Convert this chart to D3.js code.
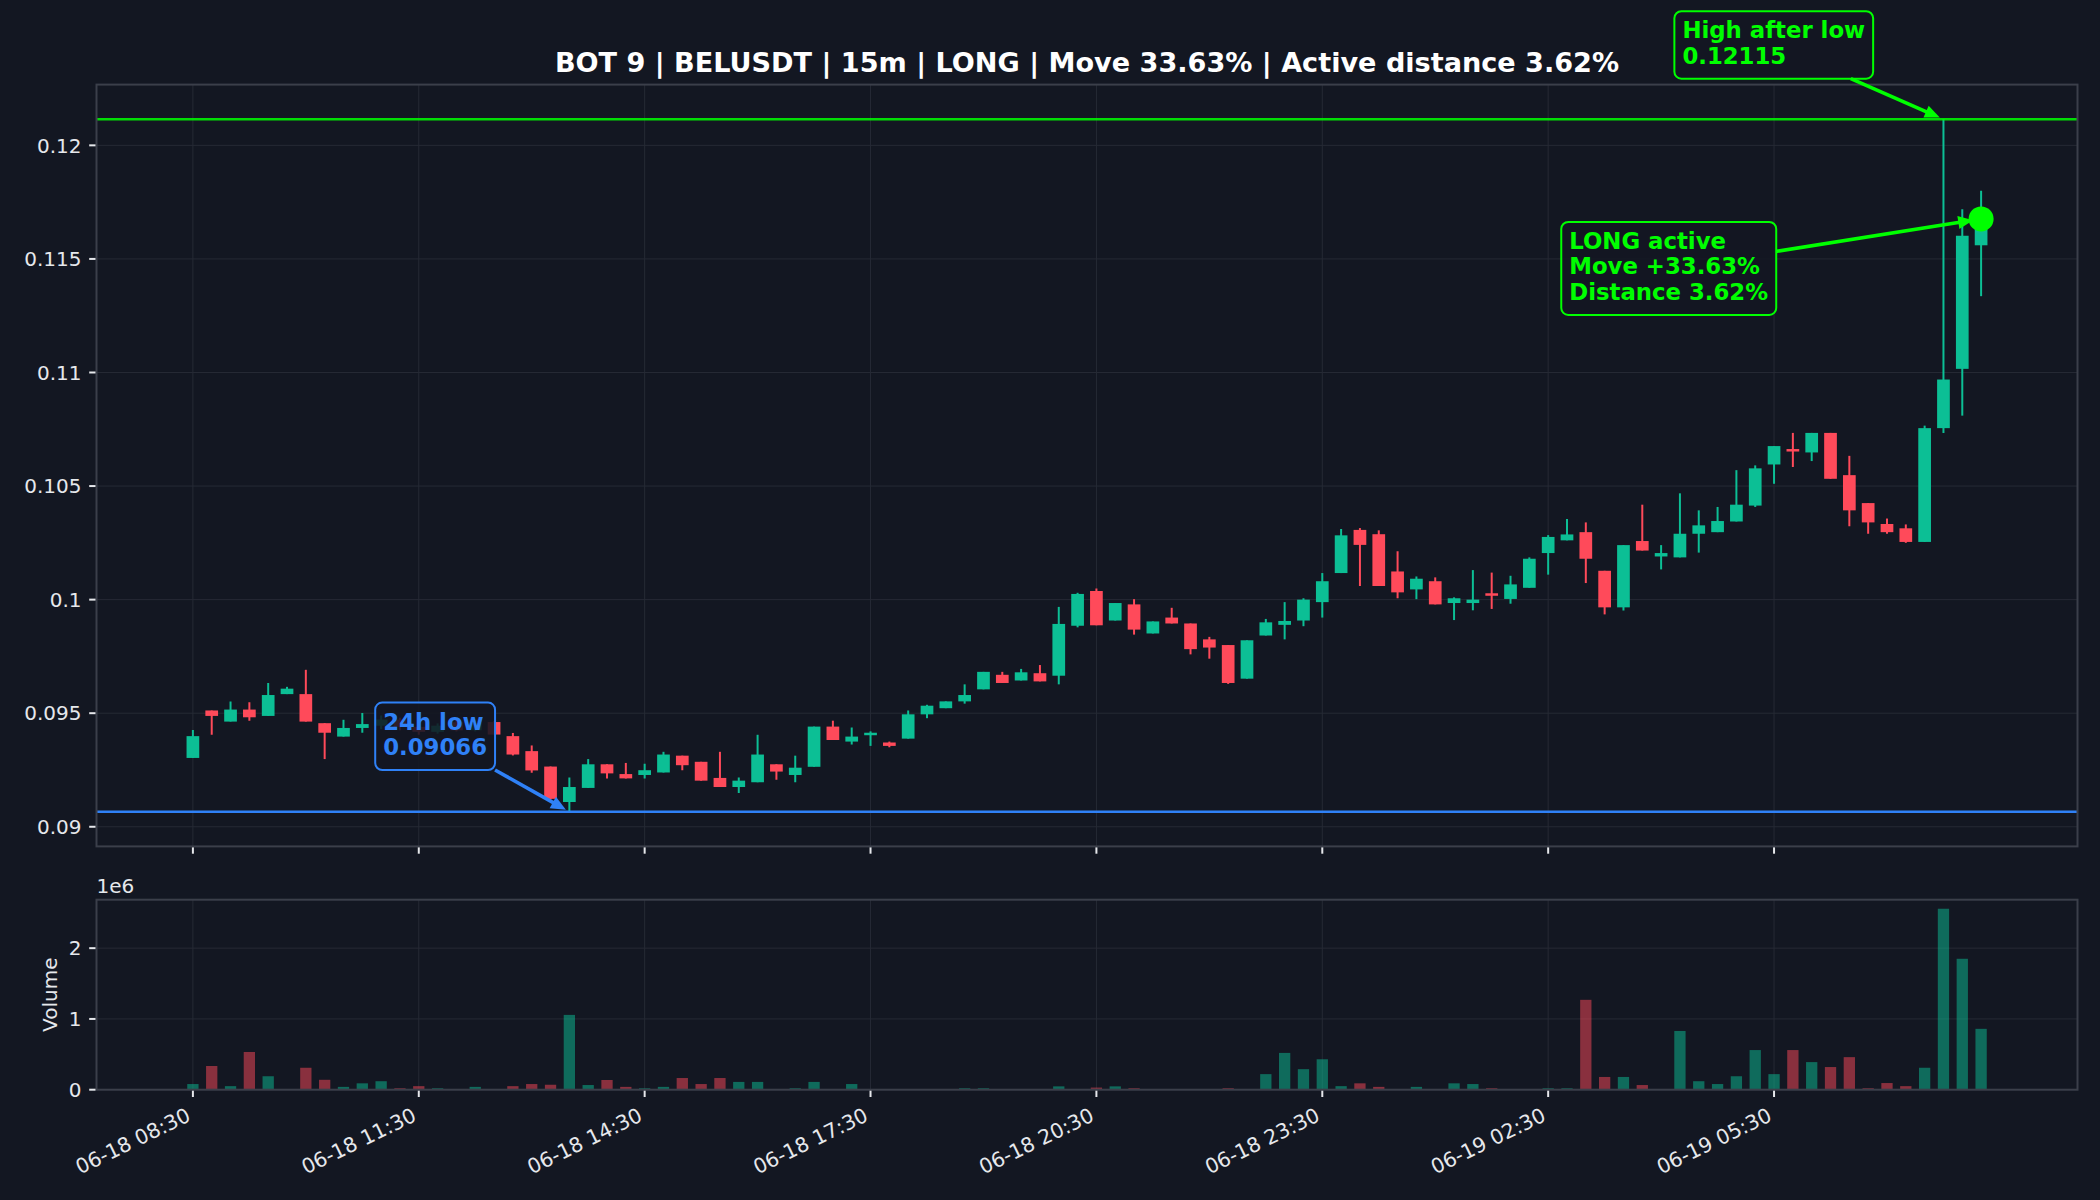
<!DOCTYPE html>
<html>
<head>
<meta charset="utf-8">
<script src="https://cdn.jsdelivr.net/npm/d3@7/dist/d3.min.js"></script>
<style>
  body { margin: 0; background: #131722; }
  svg { display: block; font-family: "DejaVu Sans", sans-serif; }
</style>
</head>
<body>
<svg id="chart" width="2100" height="1200"></svg>
<script>
//////// Data (15m candles, 06-18 08:30 -> 06-19 08:15)
var openP = [0.09303,0.09512,0.09463,0.09516,0.09488,0.09584,0.09584,0.09456,0.09397,0.09435,
  0.09445,0.09472,0.09440,0.09418,0.09460,0.09425,0.09461,0.09399,0.09333,0.09265,
  0.09109,0.09171,0.09275,0.09232,0.09228,0.09239,0.09313,0.09286,0.09215,0.09175,
  0.09196,0.09275,0.09228,0.09264,0.09441,0.09375,0.09403,0.09371,0.09388,0.09495,
  0.09522,0.09552,0.09605,0.09669,0.09644,0.09676,0.09665,0.09885,0.10038,0.09908,
  0.09979,0.09851,0.09921,0.09895,0.09825,0.09800,0.09652,0.09842,0.09889,0.09908,
  0.09989,0.10117,0.10307,0.10288,0.10124,0.10045,0.10081,0.09985,0.09985,0.10028,
  0.10003,0.10052,0.10205,0.10261,0.10297,0.10127,0.09966,0.10258,0.10190,0.10186,
  0.10290,0.10297,0.10344,0.10414,0.10595,0.10663,0.10648,0.10734,0.10548,0.10425,
  0.10333,0.10314,0.10254,0.10755,0.11016,0.11560]
var highP = [0.09426,0.09512,0.09552,0.09548,0.09633,0.09616,0.09691,0.09456,0.09471,0.09501,
  0.09490,0.09480,0.09450,0.09455,0.09470,0.09470,0.09465,0.09413,0.09358,0.09265,
  0.09217,0.09298,0.09275,0.09281,0.09277,0.09330,0.09313,0.09286,0.09330,0.09217,
  0.09405,0.09275,0.09313,0.09441,0.09467,0.09437,0.09420,0.09375,0.09512,0.09537,
  0.09552,0.09627,0.09682,0.09682,0.09695,0.09712,0.09968,0.10030,0.10049,0.09985,
  0.10002,0.09904,0.09964,0.09895,0.09836,0.09800,0.09821,0.09915,0.09989,0.10006,
  0.10117,0.10311,0.10315,0.10305,0.10213,0.10102,0.10098,0.10010,0.10130,0.10119,
  0.10105,0.10186,0.10284,0.10355,0.10340,0.10127,0.10240,0.10418,0.10240,0.10468,
  0.10393,0.10408,0.10570,0.10591,0.10676,0.10734,0.10734,0.10734,0.10633,0.10425,
  0.10357,0.10331,0.10766,0.12115,0.11719,0.11800]
var lowP = [0.09303,0.09405,0.09463,0.09467,0.09488,0.09584,0.09463,0.09298,0.09397,0.09414,
  0.09430,0.09425,0.09405,0.09410,0.09420,0.09420,0.09406,0.09314,0.09238,0.09120,
  0.09066,0.09171,0.09213,0.09213,0.09213,0.09239,0.09249,0.09203,0.09175,0.09149,
  0.09196,0.09207,0.09196,0.09264,0.09382,0.09362,0.09356,0.09350,0.09388,0.09478,
  0.09522,0.09542,0.09605,0.09633,0.09644,0.09640,0.09627,0.09878,0.09887,0.09908,
  0.09846,0.09851,0.09895,0.09759,0.09740,0.09629,0.09652,0.09842,0.09825,0.09883,
  0.09921,0.10117,0.10060,0.10060,0.10006,0.10002,0.09979,0.09910,0.09953,0.09959,
  0.09982,0.10052,0.10110,0.10261,0.10073,0.09935,0.09952,0.10216,0.10133,0.10186,
  0.10207,0.10297,0.10344,0.10408,0.10510,0.10584,0.10610,0.10532,0.10323,0.10290,
  0.10290,0.10250,0.10254,0.10734,0.10810,0.11336]
var closeP = [0.09399,0.09488,0.09516,0.09482,0.09580,0.09608,0.09463,0.09414,0.09435,0.09452,
  0.09472,0.09440,0.09418,0.09445,0.09425,0.09455,0.09406,0.09318,0.09248,0.09123,
  0.09175,0.09275,0.09235,0.09213,0.09249,0.09318,0.09271,0.09203,0.09175,0.09203,
  0.09318,0.09243,0.09260,0.09441,0.09382,0.09397,0.09414,0.09356,0.09495,0.09533,
  0.09552,0.09580,0.09682,0.09633,0.09680,0.09640,0.09893,0.10025,0.09887,0.09985,
  0.09868,0.09904,0.09895,0.09782,0.09789,0.09633,0.09821,0.09900,0.09906,0.10000,
  0.10081,0.10283,0.10241,0.10060,0.10032,0.10092,0.09979,0.10006,0.10000,0.10017,
  0.10067,0.10180,0.10276,0.10287,0.10180,0.09966,0.10240,0.10216,0.10205,0.10290,
  0.10327,0.10346,0.10418,0.10578,0.10676,0.10652,0.10734,0.10532,0.10393,0.10340,
  0.10297,0.10254,0.10755,0.10969,0.11602,0.11676]
var volume = [80000,335000,50000,533000,190000,5000,310000,140000,40000,90000,
  120000,20000,50000,20000,5000,40000,5000,50000,80000,70000,
  1057000,66000,137000,40000,20000,40000,165000,80000,165000,110000,
  110000,5000,20000,110000,5000,80000,3000,3000,3000,3000,
  3000,20000,20000,3000,3000,3000,47000,3000,30000,47000,
  20000,3000,3000,3000,3000,20000,3000,220000,520000,290000,
  430000,50000,90000,40000,3000,40000,3000,90000,80000,20000,
  3000,3000,20000,20000,1270000,180000,180000,66000,3000,830000,
  120000,80000,190000,560000,220000,560000,390000,320000,460000,20000,
  94000,50000,310000,2557000,1850000,860000]

var tickIdx = [0, 12, 24, 36, 48, 60, 72, 84]
var tickLabels = ["06-18 08:30", "06-18 11:30", "06-18 14:30", "06-18 17:30",
  "06-18 20:30", "06-18 23:30", "06-19 02:30", "06-19 05:30"]
var priceTicks = [0.09, 0.095, 0.1, 0.105, 0.11, 0.115, 0.12]
var volTicks = [0, 1e6, 2e6]

var lowIdx = 20, lowValue = 0.09066
var highIdx = 93, highValue = 0.12115
var lastIdx = 95, lastClose = 0.11676
var movePct = 33.63, distPct = 3.62

//////// Styles
var bg = "#131722", upC = "#0cbf95", downC = "#ff4a5a"
var gridC = "#262a35", spineC = "#3b3f4a", textC = "#e6e8ec"
var lime = "#00ff00", blue = "#2f81f7"
var bodyW = 0.675, volW = 0.6

var svg = d3.select("#chart")
svg.append("rect").attr("width", 2100).attr("height", 1200).attr("fill", bg)

var idx = d3.range(closeP.length)
var left = 96.5, right = 2077.5
var x0 = -bodyW / 2, x1 = idx.length - 1 + bodyW / 2
var x = d3.scaleLinear().domain([x0 - (x1 - x0) * 0.05, x1 + (x1 - x0) * 0.05]).range([left, right])
var pMin = d3.min(lowP), pMax = d3.max(highP)
var y = d3.scaleLinear().domain([pMin - (pMax - pMin) * 0.05, pMax + (pMax - pMin) * 0.05]).range([846.4, 84.6])
var yv = d3.scaleLinear().domain([0, d3.max(volume) * 1.05]).range([1089.7, 899.7])

// clip paths
var defs = svg.append("defs")
defs.append("clipPath").attr("id", "clipMain").append("rect")
  .attr("x", left).attr("y", 84.6).attr("width", right - left).attr("height", 846.4 - 84.6)
defs.append("clipPath").attr("id", "clipVol").append("rect")
  .attr("x", left).attr("y", 899.7).attr("width", right - left).attr("height", 1089.7 - 899.7)

//////// grids
function grid(ys, yTicks, top, bottom) {
  var g = svg.append("g").attr("stroke", gridC).attr("stroke-width", 1)
  g.selectAll(".gx").data(tickIdx).enter().append("line")
    .attr("x1", d => x(d)).attr("x2", d => x(d)).attr("y1", top).attr("y2", bottom)
  g.selectAll(".gy").data(yTicks).enter().append("line")
    .attr("x1", left).attr("x2", right).attr("y1", d => ys(d)).attr("y2", d => ys(d))
}
grid(y, priceTicks, 84.6, 846.4)
grid(yv, volTicks, 899.7, 1089.7)

//////// candles
var isUp = i => closeP[i] >= openP[i]
var cg = svg.append("g").attr("clip-path", "url(#clipMain)")
cg.selectAll(".wick").data(idx).enter().append("line")
  .attr("x1", d => x(d)).attr("x2", d => x(d))
  .attr("y1", d => y(highP[d])).attr("y2", d => y(lowP[d]))
  .attr("stroke", d => isUp(d) ? upC : downC).attr("stroke-width", 2)
cg.selectAll(".body").data(idx).enter().append("rect")
  .attr("x", d => x(d - bodyW / 2)).attr("width", x(bodyW) - x(0))
  .attr("y", d => y(Math.max(openP[d], closeP[d])))
  .attr("height", d => Math.max(2, Math.abs(y(openP[d]) - y(closeP[d]))))
  .attr("fill", d => isUp(d) ? upC : downC)

// reference lines
cg.append("line").attr("x1", left).attr("x2", right)
  .attr("y1", y(highValue)).attr("y2", y(highValue))
  .attr("stroke", lime).attr("stroke-opacity", 0.85).attr("stroke-width", 2.4)
cg.append("line").attr("x1", left).attr("x2", right)
  .attr("y1", y(lowValue)).attr("y2", y(lowValue))
  .attr("stroke", blue).attr("stroke-width", 2.4)

//////// volume
svg.append("g").attr("clip-path", "url(#clipVol)")
  .selectAll("rect").data(idx).enter().append("rect")
  .attr("x", d => x(d - volW / 2)).attr("width", x(volW) - x(0))
  .attr("y", d => yv(volume[d])).attr("height", d => yv(0) - yv(volume[d]))
  .attr("fill", d => isUp(d) ? upC : downC).attr("fill-opacity", 0.5)

//////// spines + ticks
function frame(top, bottom) {
  svg.append("rect").attr("x", left).attr("y", top).attr("width", right - left).attr("height", bottom - top)
    .attr("fill", "none").attr("stroke", spineC).attr("stroke-width", 2)
  svg.append("g").selectAll("line").data(tickIdx).enter().append("line")
    .attr("x1", d => x(d)).attr("x2", d => x(d)).attr("y1", bottom + 1).attr("y2", bottom + 7.3)
    .attr("stroke", textC).attr("stroke-width", 2)
}
frame(84.6, 846.4)
frame(899.7, 1089.7)

function yAxis(ys, ticks, fmt) {
  var g = svg.append("g")
  g.selectAll("line").data(ticks).enter().append("line")
    .attr("x1", left - 7.3).attr("x2", left - 1).attr("y1", d => ys(d)).attr("y2", d => ys(d))
    .attr("stroke", textC).attr("stroke-width", 2)
  g.selectAll("text").data(ticks).enter().append("text")
    .attr("x", left - 15).attr("y", d => ys(d)).attr("dy", "0.36em")
    .attr("text-anchor", "end").attr("fill", textC).style("font-size", "20px")
    .text(fmt)
}
yAxis(y, priceTicks, d => String(+d.toFixed(3)))
yAxis(yv, volTicks, d => String(d / 1e6))

svg.append("text").attr("x", left).attr("y", 893).attr("fill", textC)
  .style("font-size", "20px").text("1e6")
svg.append("text").attr("transform", "translate(57," + (899.7 + 1089.7) / 2 + ") rotate(-90)")
  .attr("text-anchor", "middle").attr("fill", textC).style("font-size", "20px").text("Volume")

svg.append("g").selectAll("text").data(tickIdx).enter().append("text")
  .attr("transform", d => "translate(" + (x(d) - 1) + ",1120) rotate(-26)")
  .attr("text-anchor", "end").attr("fill", textC).style("font-size", "20.4px")
  .text((d, i) => tickLabels[i])

//////// title
svg.append("text").attr("x", (left + right) / 2).attr("y", 72)
  .attr("text-anchor", "middle").attr("fill", "#ffffff")
  .style("font-size", "27.1px").style("font-weight", "bold")
  .text("BOT 9 | BELUSDT | 15m | LONG | Move " + movePct.toFixed(2) + "% | Active distance " + distPct.toFixed(2) + "%")

//////// annotations
function annotate(lines, color, tx, ty, px, py, shrink) {
  var g = svg.append("g")
  var box = g.append("rect")
  var t = g.append("text").attr("fill", color).style("font-size", "22.8px").style("font-weight", "bold")
  lines.forEach((s, k) => t.append("tspan").attr("x", tx).attr("y", ty + k * 25.5).text(s))
  var bb = t.node().getBBox()
  var pad = 8
  var bx = bb.x - pad, by = bb.y - pad + 2, bw = bb.width + 2 * pad, bh = bb.height + 2 * pad
  box.attr("x", bx).attr("y", by).attr("width", bw).attr("height", bh).attr("rx", 7)
    .attr("fill", bg).attr("fill-opacity", 0.88).attr("stroke", color).attr("stroke-width", 2)
  // arrow from box edge toward target
  var cx = bx + bw / 2, cy = by + bh / 2, dx = px - cx, dy = py - cy
  var s = Math.min((bw / 2) / Math.abs(dx), (bh / 2) / Math.abs(dy))
  var sx = cx + dx * s, sy = cy + dy * s
  var len = Math.hypot(px - sx, py - sy), ux = (px - sx) / len, uy = (py - sy) / len
  var ex = px - ux * shrink, ey = py - uy * shrink
  var hl = 15, hw = 6.5
  g.append("line").attr("x1", sx).attr("y1", sy).attr("x2", ex - ux * hl * 0.8).attr("y2", ey - uy * hl * 0.8)
    .attr("stroke", color).attr("stroke-width", 3.6)
  g.append("path")
    .attr("d", "M" + ex + "," + ey + "L" + (ex - ux * hl - uy * hw) + "," + (ey - uy * hl + ux * hw) +
      "L" + (ex - ux * hl + uy * hw) + "," + (ey - uy * hl - ux * hw) + "Z")
    .attr("fill", color)
}

annotate(["24h low", lowValue.toFixed(5)], blue, x(10.11), y(0.09428), x(lowIdx), y(lowValue), 4)
annotate(["High after low", highValue.toFixed(5)], lime, x(79.13), y(0.12472), x(highIdx), y(highValue), 4)
annotate(["LONG active", "Move +" + movePct.toFixed(2) + "%", "Distance " + distPct.toFixed(2) + "%"],
  lime, x(73.12), y(0.11544), x(lastIdx), y(lastClose), 8)

// last price dot
svg.append("circle").attr("cx", x(lastIdx)).attr("cy", y(lastClose)).attr("r", 12.5).attr("fill", lime)
</script>
</body>
</html>
